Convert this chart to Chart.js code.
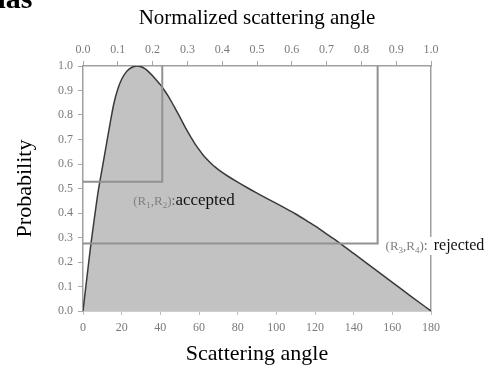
<!DOCTYPE html>
<html>
<head>
<meta charset="utf-8">
<script src="https://cdn.jsdelivr.net/npm/chart.js@4.4.1/dist/chart.umd.min.js"></script>
<style>
  html, body { margin: 0; padding: 0; background: #ffffff; }
  #c { display: block; }
</style>
</head>
<body>
<canvas id="c" width="488" height="370"></canvas>
<script>
// Scattering angle (degrees) and the normalized probability of each angle
const angles = [0, 2, 4, 6, 8, 10, 12, 14, 16, 18, 20, 22, 24, 26, 28, 30, 32, 34, 36, 38, 40, 42, 44, 46, 48, 50, 52, 54, 56, 58, 60, 62, 64, 66, 68, 70, 75, 80, 85, 90, 95, 100, 105, 110, 115, 120, 125, 130, 133, 140, 150, 160, 170, 180];
const probability = [0, 0.135, 0.268, 0.385, 0.495, 0.585, 0.675, 0.765, 0.848, 0.906, 0.946, 0.972, 0.988, 0.997, 1.0, 0.997, 0.989, 0.976, 0.960, 0.942, 0.924, 0.902, 0.878, 0.851, 0.822, 0.793, 0.763, 0.734, 0.707, 0.681, 0.659, 0.638, 0.620, 0.604, 0.590, 0.577, 0.550, 0.526, 0.503, 0.481, 0.460, 0.439, 0.418, 0.396, 0.372, 0.347, 0.320, 0.293, 0.276, 0.235, 0.176, 0.117, 0.058, 0];

// Random pairs (R1,R2) and (R3,R4): angle and probability of each trial
const acceptedPair = [41, 0.528];
const rejectedPair = [152.4, 0.276];

// Axis tick settings
const angleTickStep = 20;
const normTickStep = 0.1;
const probTickStep = 0.1;

const serif = "'Liberation Serif', 'Times New Roman', serif";
const tickFont = { family: serif, size: 12 };
const tickColor = '#7a7a7a';

function trialPath(pair) {
  return [{ x: 0, y: pair[1] }, { x: pair[0], y: pair[1] }, { x: pair[0], y: 1 }];
}

const curve = angles.map((a, i) => ({ x: a, y: probability[i] }));

// Text labels for the two trials, placed in data coordinates
const trialLabels = {
  id: 'trialLabels',
  afterDraw(chart) {
    const { ctx, scales: { x, y } } = chart;
    ctx.save();
    ctx.textBaseline = 'alphabetic';

    function pairText(px, py, a, b, color) {
      const big = "13px " + serif, small = "9px " + serif;
      const parts = [['(R', big, 0], [a, small, 3], [',R', big, 0], [b, small, 3], [')', big, 0]];
      let cx = px;
      ctx.fillStyle = color;
      for (const [t, f, dy] of parts) {
        ctx.font = f;
        ctx.fillText(t, cx, py + dy);
        cx += ctx.measureText(t).width;
      }
      return cx;
    }

    // accepted
    let ax = x.getPixelForValue(26), ay = y.getPixelForValue(0.433);
    let cx = pairText(ax, ay, '1', '2', '#808080');
    ctx.font = "14px " + serif;
    ctx.fillStyle = '#666';
    ctx.fillText(':', cx, ay);
    cx += ctx.measureText(':').width;
    ctx.font = "17px " + serif;
    ctx.fillStyle = '#111';
    ctx.fillText('accepted', cx, ay);

    // rejected
    let rx = x.getPixelForValue(156.5), ry = y.getPixelForValue(0.249);
    cx = pairText(rx, ry, '3', '4', '#808080');
    ctx.font = "14px " + serif;
    ctx.fillStyle = '#666';
    ctx.fillText(':', cx, ry);
    cx += ctx.measureText(':').width + 2;
    ctx.fillStyle = '#ffffff';
    ctx.fillRect(cx, ry - 13, 488 - cx, 18);
    ctx.font = "16px " + serif;
    ctx.fillStyle = '#111';
    ctx.fillText('rejected', cx + 4, ry);

    // heading fragment above the figure
    ctx.font = "bold 30px " + serif;
    ctx.fillStyle = '#000';
    ctx.fillText('nas', -11, 8);
    ctx.restore();
  }
};

new Chart(document.getElementById('c'), {
  type: 'line',
  data: {
    datasets: [
      {
        data: trialPath(acceptedPair),
        borderColor: '#919191', borderWidth: 2, pointRadius: 0, fill: false, tension: 0,
        xAxisID: 'x', yAxisID: 'y'
      },
      {
        data: trialPath(rejectedPair),
        borderColor: '#919191', borderWidth: 2, pointRadius: 0, fill: false, tension: 0,
        xAxisID: 'x', yAxisID: 'y'
      },
      {
        data: curve,
        borderColor: '#3a3a3a', borderWidth: 1.5, pointRadius: 0,
        backgroundColor: '#c2c2c2', fill: 'origin',
        cubicInterpolationMode: 'monotone',
        xAxisID: 'x', yAxisID: 'y'
      }
    ]
  },
  options: {
    responsive: false,
    animation: false,
    events: [],
    layout: { padding: 0 },
    plugins: { legend: { display: false }, tooltip: { enabled: false } },
    scales: {
      x: {
        type: 'linear', position: 'bottom', min: 0, max: 180,
        ticks: { stepSize: angleTickStep, color: tickColor, font: tickFont, padding: 6, maxRotation: 0 },
        grid: { drawOnChartArea: false, drawTicks: true, tickLength: 4, color: '#bdbdbd' },
        border: { color: '#cfcfcf', width: 1 },
        title: { display: true, text: 'Scattering angle', color: '#000', font: { family: serif, size: 22 }, padding: { top: 0, bottom: 3 } },
        afterFit(s) { s.height = 59; }
      },
      x2: {
        type: 'linear', position: 'top', min: 0, max: 1,
        ticks: { stepSize: normTickStep, color: tickColor, font: tickFont, padding: 4, maxRotation: 0,
                 callback: v => v.toFixed(1) },
        grid: { drawOnChartArea: false, drawTicks: true, tickLength: 5, color: '#a8a8a8' },
        border: { color: '#a0a0a0', width: 1.5 },
        title: { display: true, text: 'Normalized scattering angle', color: '#000', font: { family: serif, size: 21 }, padding: { top: 6, bottom: 0 } },
        afterFit(s) { s.height = 66; }
      },
      y: {
        type: 'linear', position: 'left', min: 0, max: 1,
        ticks: { stepSize: probTickStep, color: tickColor, font: tickFont, padding: 5,
                 callback: v => v.toFixed(1) },
        grid: { drawOnChartArea: false, drawTicks: true, tickLength: 5, color: '#a8a8a8' },
        border: { color: '#a0a0a0', width: 1.5 },
        title: { display: true, text: 'Probability', color: '#000', font: { family: serif, size: 22 }, padding: { top: 12, bottom: 0 } },
        afterFit(s) { s.width = 83; }
      },
      y2: {
        type: 'linear', position: 'right', min: 0, max: 1,
        ticks: { display: false },
        grid: { drawOnChartArea: false, drawTicks: false },
        border: { color: '#a0a0a0', width: 1.5 },
        afterFit(s) { s.width = 57; }
      }
    }
  },
  plugins: [trialLabels]
});
</script>
</body>
</html>
